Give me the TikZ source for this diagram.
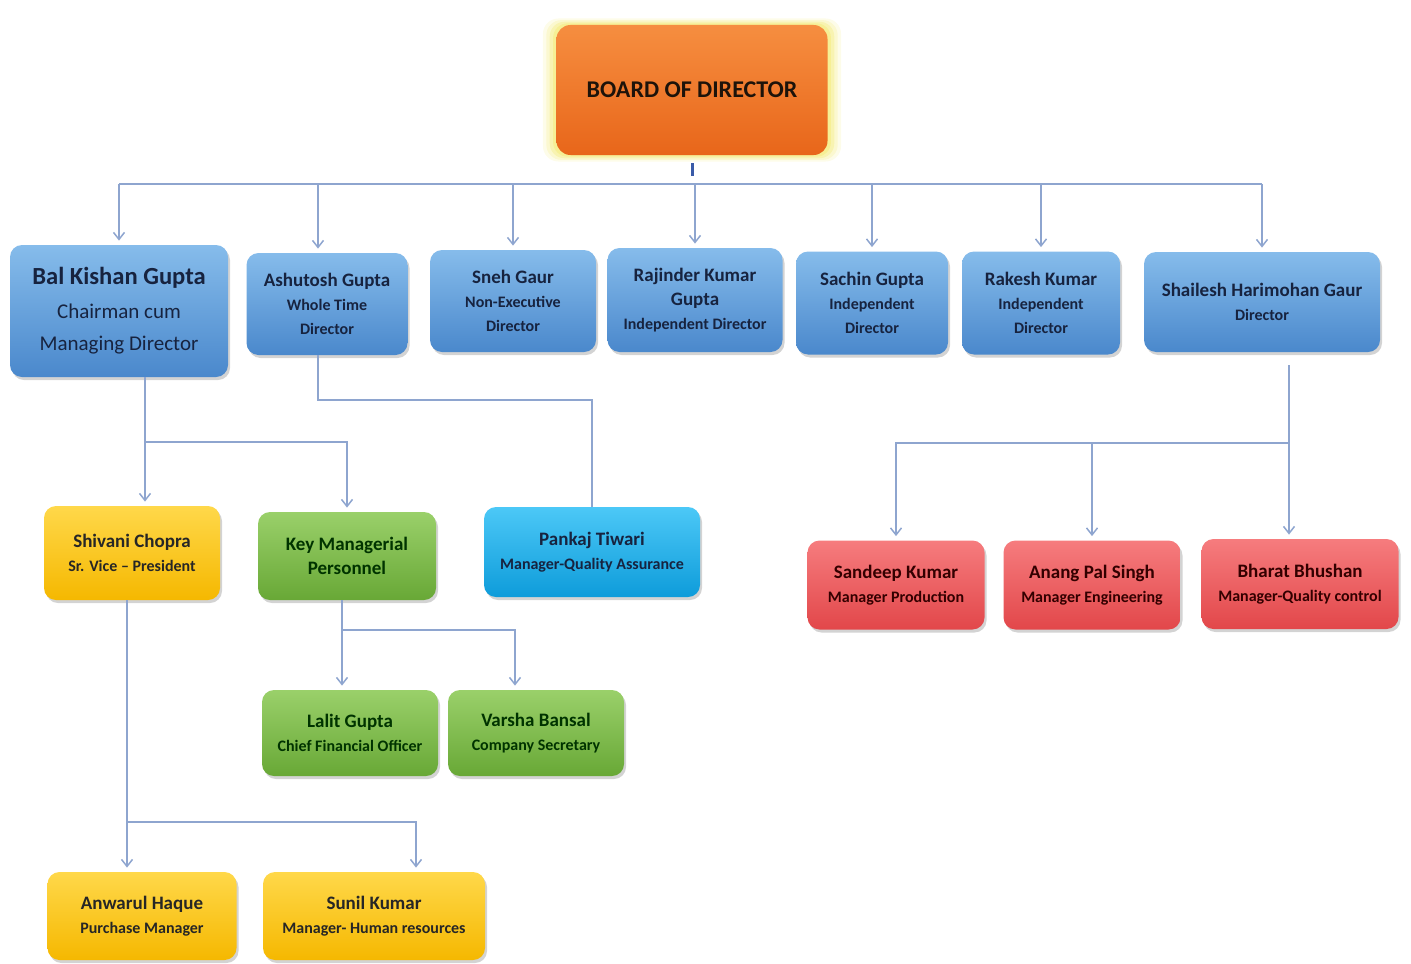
\documentclass[tikz,border=0pt]{standalone}
\usepackage{fontspec}
\setmainfont{Carlito}
\usetikzlibrary{arrows.meta, shadows, positioning}

\definecolor{linkc}{HTML}{8EA5CF}
\definecolor{tickc}{HTML}{3A5BA8}
\definecolor{navy}{HTML}{17233F}
\definecolor{blueT}{HTML}{86BCEB}
\definecolor{blueB}{HTML}{4A88CC}
\definecolor{orangeT}{HTML}{F68E40}
\definecolor{orangeB}{HTML}{E8661A}
\definecolor{yellowT}{HTML}{FFD84A}
\definecolor{yellowB}{HTML}{F5B800}
\definecolor{greenT}{HTML}{9AD06A}
\definecolor{greenB}{HTML}{68A836}
\definecolor{cyanT}{HTML}{4CC8F7}
\definecolor{cyanB}{HTML}{0E9CDA}
\definecolor{redT}{HTML}{F67C7E}
\definecolor{redB}{HTML}{E2474A}
\definecolor{glowc}{HTML}{F2E86A}

\newcommand{\pname}[1]{{\fontsize{9.5}{12}\selectfont\bfseries #1}}
\newcommand{\prole}[1]{{\fontsize{8}{11.5}\selectfont\bfseries #1}}

\tikzset{
  box/.style={rounded corners=6pt, align=center, inner sep=1pt, text=black!85,
    drop shadow={opacity=0.35, shadow xshift=1pt, shadow yshift=-1.5pt}},
  boxsize/.style 2 args={minimum width=#1, minimum height=#2},
  bluebox/.style={box, top color=blueT, bottom color=blueB, text=navy},
  yellowbox/.style={box, top color=yellowT, bottom color=yellowB},
  greenbox/.style={box, top color=greenT, bottom color=greenB, text=black!80!green},
  cyanbox/.style={box, top color=cyanT, bottom color=cyanB, text=navy},
  redbox/.style={box, top color=redT, bottom color=redB, text=black!80!red},
  link/.style={draw=linkc, line width=0.75pt},
  arr/.style={link, shorten >=2pt, -{Straight Barb[length=3.5pt, width=5.5pt]}},
  bustick/.style={draw=tickc, line width=1.5pt}
}

\begin{document}
\begin{tikzpicture}[x=0.5pt, y=-0.5pt]

\useasboundingbox (0,0) rectangle (1411,963);

% Board at the top
\node[rounded corners=7pt, align=center, boxsize={135.5pt}{65pt},
  top color=orangeT, bottom color=orangeB, text=black!85!brown,
  general shadow={fill=glowc, opacity=0.15, shadow scale=1.1},
  general shadow={fill=glowc, opacity=0.2, shadow scale=1.075},
  general shadow={fill=glowc, opacity=0.3, shadow scale=1.05},
  general shadow={fill=glowc, opacity=0.4, shadow scale=1.025},
  font=\fontsize{12}{14}\selectfont\bfseries] (board) at (692,90) {BOARD OF DIRECTOR};

% Directors
\node[bluebox, boxsize={109pt}{66pt}] (bal) at (119,311)
  {{\fontsize{12.3}{16.5}\selectfont\bfseries Bal Kishan Gupta}\\[5pt]
   {\fontsize{10.5}{16.5}\selectfont Chairman cum}\\[4pt]
   {\fontsize{10.5}{16.5}\selectfont Managing Director}};
\node[bluebox, boxsize={80.5pt}{51pt}] (ash) at (327,304)
  {\pname{Ashutosh Gupta}\\ \prole{Whole Time}\\ \prole{Director}};
\node[bluebox, boxsize={83pt}{51pt}] (sneh) at (513,301)
  {\pname{Sneh Gaur}\\ \prole{Non-Executive}\\ \prole{Director}};
\node[bluebox, boxsize={87.5pt}{52pt}] (raj) at (695,300)
  {\pname{Rajinder Kumar}\\ \pname{Gupta}\\ \prole{Independent Director}};
\node[bluebox, boxsize={76pt}{51.5pt}] (sachin) at (872,303)
  {\pname{Sachin Gupta}\\ \prole{Independent}\\ \prole{Director}};
\node[bluebox, boxsize={79pt}{51.5pt}] (rakesh) at (1041,303)
  {\pname{Rakesh Kumar}\\ \prole{Independent}\\ \prole{Director}};
\node[bluebox, boxsize={118pt}{50pt}] (shai) at (1262,302)
  {\pname{Shailesh Harimohan Gaur}\\ \prole{Director}};

% Second level
\node[yellowbox, boxsize={88pt}{47pt}] (shivani) at (132,553)
  {\pname{Shivani Chopra}\\ \prole{Sr. Vice -- President}};
\node[greenbox, boxsize={89pt}{44pt}] (key) at (347,556)
  {\pname{Key Managerial}\\ \pname{Personnel}};
\node[cyanbox, boxsize={108pt}{45pt}] (pankaj) at (592,552)
  {\pname{Pankaj Tiwari}\\ \prole{Manager-Quality Assurance}};
\node[redbox, boxsize={88.5pt}{44.5pt}] (sandeep) at (896,585)
  {\pname{Sandeep Kumar}\\ \prole{Manager Production}};
\node[redbox, boxsize={88.5pt}{44.5pt}] (anang) at (1092,585)
  {\pname{Anang Pal Singh}\\ \prole{Manager Engineering}};
\node[redbox, boxsize={98.5pt}{45pt}] (bharat) at (1300,584)
  {\pname{Bharat Bhushan}\\ \prole{Manager-Quality control}};

% Third level
\node[greenbox, boxsize={88pt}{43pt}] (lalit) at (350,733)
  {\pname{Lalit Gupta}\\ \prole{Chief Financial Officer}};
\node[greenbox, boxsize={88pt}{43pt}] (varsha) at (536,733)
  {\pname{Varsha Bansal}\\ \prole{Company Secretary}};
\node[yellowbox, boxsize={94.5pt}{44pt}] (anwarul) at (142,916)
  {\pname{Anwarul Haque}\\ \prole{Purchase Manager}};
\node[yellowbox, boxsize={111pt}{44pt}] (sunil) at (374,916)
  {\pname{Sunil Kumar}\\ \prole{Manager- Human resources}};

% Bus under the board
\coordinate (busL) at (119,184);
\draw[bustick] ([yshift=-4pt]board.south) -- ([yshift=-10.5pt]board.south);
\draw[link] (busL) -- (busL -| shai.north);
\draw[arr] (busL -| 318,0) -- ([xshift=-4.5pt]ash.north);
\foreach \n in {bal,sneh,raj,sachin,rakesh,shai}
  \draw[arr] (busL -| \n.north) -- (\n.north);

% Bal Kishan Gupta
\coordinate (balj) at (145,442);
\draw[link] (balj |- bal.south) -- (balj);
\draw[arr] (balj) -- (balj |- shivani.north);
\draw[arr] (balj) -| (key.north);

% Ashutosh Gupta
\coordinate (ashj) at (318,400);
\draw[link] (ashj |- ash.south) -- (ashj) -| (pankaj.north);

% Key Managerial Personnel
\coordinate (keyj) at (342,630);
\coordinate (keyr) at (515,630);
\draw[link] (keyj |- key.south) -- (keyj);
\draw[arr] (keyj) -- (keyj |- lalit.north);
\draw[arr] (keyj) -- (keyr) -- (keyr |- varsha.north);

% Shailesh Harimohan Gaur
\coordinate (shait) at (1289,365);
\coordinate (shaij) at (1289,443);
\draw[link] (shait) -- (shaij);
\draw[arr] (shaij) -- (shaij |- bharat.north);
\draw[arr] (shaij) -| (sandeep.north);
\draw[arr] (shaij -| anang.north) -- (anang.north);

% Shivani Chopra
\coordinate (shij) at (127,822);
\coordinate (shir) at (416,822);
\draw[link] (shij |- shivani.south) -- (shij);
\draw[arr] (shij) -- (shij |- anwarul.north);
\draw[arr] (shij) -- (shir) -- (shir |- sunil.north);

\end{tikzpicture}
\end{document}
